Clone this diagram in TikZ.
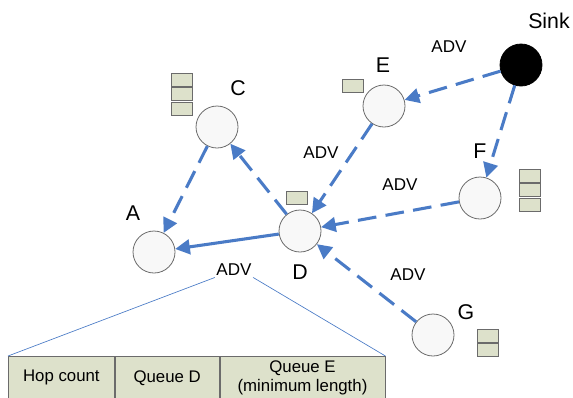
\documentclass[tikz,border=0pt]{standalone}
\usepackage{fontspec}
\setmainfont{Liberation Sans}
\usetikzlibrary{arrows.meta}
\definecolor{flow}{HTML}{4A7BC6}
\definecolor{qfill}{HTML}{DDE1CB}
\definecolor{ring}{HTML}{6B6B6B}
\definecolor{sheet}{HTML}{F8F8F8}
\begin{document}
\begin{tikzpicture}[x=0.75pt,y=-0.75pt,
  mote/.style={circle, draw=ring, fill=sheet, line width=0.6pt, minimum size=31.5pt, inner sep=0pt},
  sinkmote/.style={mote, fill=black, draw=black},
  tag/.style={font=\fontsize{16}{18}\selectfont},
  adv/.style={font=\fontsize{12.8}{14}\selectfont},
  slot/.style={draw=ring, fill=qfill, minimum width=15.75pt, minimum height=9.75pt, inner sep=0pt, line width=0.6pt},
  tip/.style={-{Triangle[length=11pt,width=11pt]}},
  hop/.style={draw=flow, line width=2.3pt, dash pattern=on 14pt off 7pt, tip},
  direct/.style={draw=flow, line width=2.3pt, tip},
  cell/.style={draw=ring, fill=qfill, line width=0.6pt, minimum height=32.25pt, inner sep=0pt, anchor=north west, align=center, font=\fontsize{12.6}{13.8}\selectfont},
  zoomline/.style={draw=flow, line width=0.5pt}
]
\useasboundingbox (0,0) rectangle (573,397);
\clip (0,0) rectangle (573,397);

% sensor nodes
\node[mote] (A) at (154,252) {};
\node[mote] (C) at (217,127) {};
\node[mote] (D) at (300,231) {};
\node[mote] (E) at (384,106) {};
\node[mote] (F) at (480,198) {};
\node[mote] (G) at (433,335) {};
\node[sinkmote] (S) at (521,65) {};

% node names
\node[tag] (lA) at (133,213) {A};
\node[tag] (lC) at (238,88) {C};
\node[tag] (lD) at (300,272) {D};
\node[tag] (lE) at (383,65) {E};
\node[tag] (lF) at (480,151) {F};
\node[tag] (lG) at (466,312) {G};
\node[tag] (lS) at (549,21) {Sink};

% queues
\node[slot] (qC1) at (181.5,79.5) {};
\node[slot] (qC2) at (181.5,94) {};
\node[slot] (qC3) at (181.5,108.5) {};
\node[slot] (qE1) at (352.5,85.5) {};
\node[slot] (qD1) at (297,198) {};
\node[slot] (qF1) at (530,175.5) {};
\node[slot] (qF2) at (530,190) {};
\node[slot] (qF3) at (530,204.5) {};
\node[slot] (qG1) at (488,335.5) {};
\node[slot] (qG2) at (488,350) {};

% advertisements
\draw[hop] (S) -- (E);
\draw[hop] (S) -- (F);
\draw[hop] (E) -- (D);
\draw[hop] (F) -- (D);
\draw[hop] (G) -- (D);
\draw[hop] (D) -- (C);
\draw[hop] (C) -- (A);
\draw[direct] (D) -- (A);

% ADV labels
\node[adv] (a1) at (449,47) {ADV};
\node[adv] (a2) at (321,153) {ADV};
\node[adv] (a3) at (400,185) {ADV};
\node[adv] (a4) at (408,275) {ADV};
\node[adv, inner sep=1pt] (a5) at (234,270) {ADV};

% message format
\node[cell, minimum width=79.5pt] (t1) at (8,356) {Hop count};
\node[cell, minimum width=78pt] (t2) at (t1.north east) {Queue D};
\node[cell, minimum width=123.75pt] (t3) at (t2.north east) {Queue E\\(minimum length)};
\draw[zoomline] (a5.south west) -- (t1.north west);
\draw[zoomline] (a5.south east) -- (t3.north east);
\end{tikzpicture}
\end{document}
